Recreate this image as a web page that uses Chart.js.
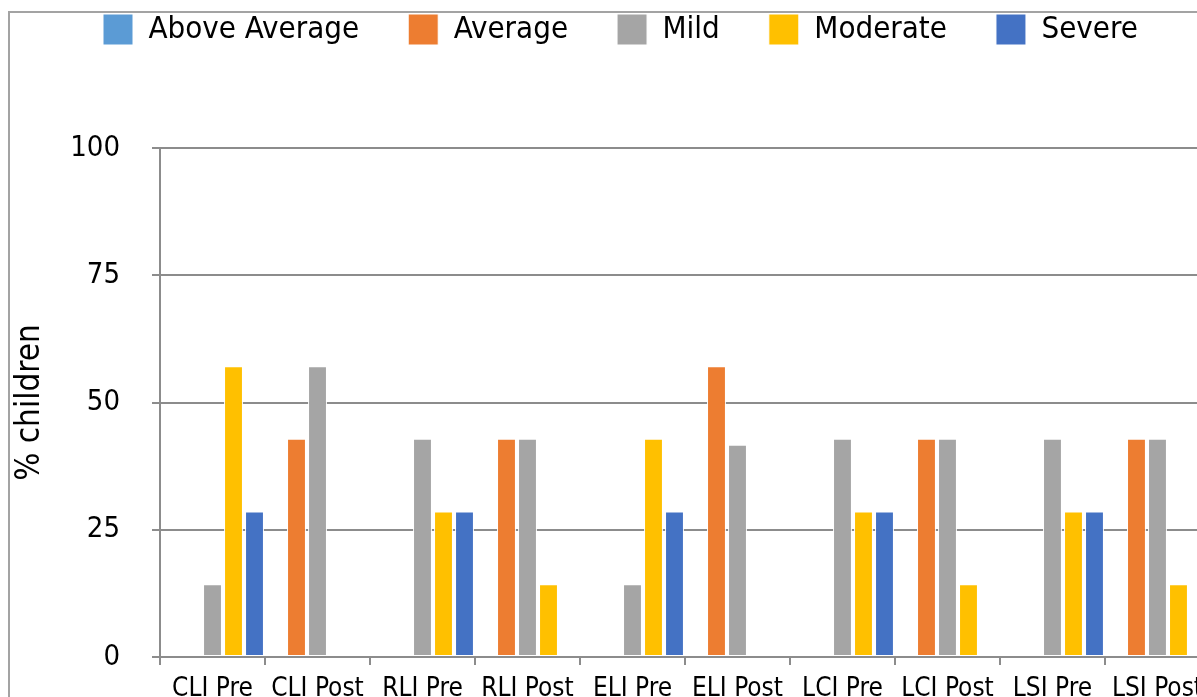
<!DOCTYPE html>
<html>
<head>
<meta charset="utf-8">
<script src="https://cdn.jsdelivr.net/npm/chart.js@4.4.0/dist/chart.umd.min.js"></script>
<style>
  html, body { margin: 0; padding: 0; background: #fff; overflow: hidden; }
  #frame {
    position: absolute; left: 8px; top: 11px; width: 2000px; height: 2000px;
    border-top: 2px solid #a3a3a3; border-left: 2px solid #a3a3a3;
  }
  #wrap { position: absolute; left: 0; top: 0; width: 1212px; height: 717px; }
</style>
</head>
<body>
<div id="frame"></div>
<div id="wrap"><canvas id="chart"></canvas></div>
<script>
// --- Data ---
const categories = ['CLI Pre', 'CLI Post', 'RLI Pre', 'RLI Post', 'ELI Pre', 'ELI Post', 'LCI Pre', 'LCI Post', 'LSI Pre', 'LSI Post'];
const aboveAverage = [0, 0, 0, 0, 0, 0, 0, 0, 0, 0];
const average = [0, 42.9, 0, 42.9, 0, 57.1, 0, 42.9, 0, 42.9];
const mild = [14.3, 57.1, 42.9, 42.9, 14.3, 41.7, 42.9, 42.9, 42.9, 42.9];
const moderate = [57.1, 0, 28.6, 14.3, 42.9, 0, 28.6, 14.3, 28.6, 14.3];
const severe = [28.6, 0, 28.6, 0, 28.6, 0, 28.6, 0, 28.6, 0];
const yTicks = [0, 25, 50, 75, 100];

const FONT = '"DejaVu Sans Condensed", "DejaVu Sans", sans-serif';
const GRID = '#8c8c8c';

// legend sits at a fixed spot (Excel placed it off-centre)
const legendSpot = {
    id: 'legendSpot',
    afterLayout(chart) {
        const lg = chart.legend;
        const pad = lg.options.labels.padding;
        const w = lg.right - lg.left;
        lg.left = 103 - pad;
        lg.right = lg.left + w + 400;
        lg.top = 14 - pad;
    }
};

const makeSet = (label, data, color) => ({
    label, data,
    backgroundColor: color,
    borderColor: '#ffffff',
    borderWidth: 1,
    borderSkipped: false
});

document.addEventListener('DOMContentLoaded', () => {
    const ctx = document.getElementById('chart').getContext('2d');
    new Chart(ctx, {
        type: 'bar',
        data: {
            labels: categories,
            datasets: [
                makeSet('Above Average', aboveAverage, '#5B9BD5'),
                makeSet('Average', average, '#ED7D31'),
                makeSet('Mild', mild, '#A5A5A5'),
                makeSet('Moderate', moderate, '#FFC000'),
                makeSet('Severe', severe, '#4472C4')
            ]
        },
        plugins: [legendSpot],
        options: {
            responsive: true,
            maintainAspectRatio: false,
            animation: false,
            datasets: { bar: { categoryPercentage: 1.0, barPercentage: 0.9 } },
            layout: { padding: { left: 5, top: 58, right: 0, bottom: 0 } },
            plugins: {
                tooltip: { enabled: false },
                legend: {
                    position: 'top',
                    align: 'start',
                    labels: {
                        color: '#000',
                        font: { family: FONT, size: 31 },
                        boxWidth: 30,
                        boxHeight: 31,
                        padding: 49
                    }
                }
            },
            scales: {
                x: {
                    afterFit: (s) => { s.height = 60; },
                    grid: {
                        offset: true,
                        drawOnChartArea: false,
                        color: GRID,
                        lineWidth: 2,
                        tickLength: 8
                    },
                    border: { color: GRID, width: 2 },
                    ticks: { color: '#000', font: { family: FONT, size: 26 }, padding: 9, maxRotation: 0, autoSkip: false }
                },
                y: {
                    min: 0,
                    max: 100,
                    afterFit: (s) => { s.width = 155; },
                    afterBuildTicks: (s) => { s.ticks = yTicks.map(v => ({ value: v })); },
                    grid: { color: GRID, lineWidth: 2, tickLength: 8 },
                    border: { color: GRID, width: 2 },
                    ticks: { color: '#000', font: { family: FONT, size: 29 }, padding: 32 },
                    title: {
                        display: true,
                        text: '% children',
                        color: '#000',
                        font: { family: FONT, size: 33 },
                        padding: { top: 6, bottom: 0 }
                    }
                }
            }
        }
    });
});
</script>
</body>
</html>
